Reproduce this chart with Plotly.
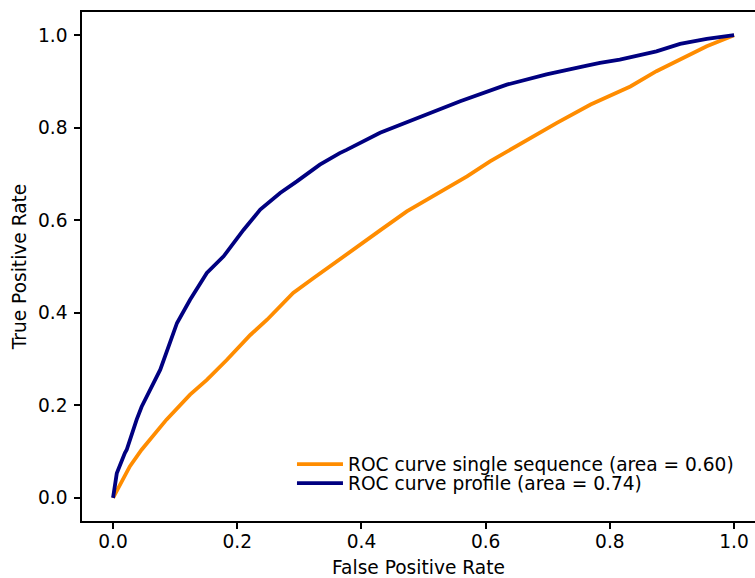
import plotly.graph_objects as go

# False/true positive rates
fpr_single = [0.0, 0.011, 0.027, 0.046, 0.086, 0.124, 0.151, 0.183, 0.221, 0.248,
              0.290, 0.323, 0.371, 0.430, 0.473, 0.527, 0.570, 0.607, 0.661,
              0.714, 0.769, 0.816, 0.833, 0.875, 0.913, 0.956, 1.0]
tpr_single = [0.0, 0.028, 0.068, 0.104, 0.169, 0.223, 0.255, 0.298, 0.352, 0.385,
              0.443, 0.475, 0.522, 0.578, 0.619, 0.662, 0.695, 0.727, 0.770,
              0.810, 0.850, 0.879, 0.889, 0.922, 0.947, 0.976, 1.0]

fpr_profile = [0.0, 0.006, 0.019, 0.022, 0.038, 0.046, 0.076, 0.103, 0.124, 0.151, 0.178,
               0.210, 0.237, 0.269, 0.296, 0.333, 0.365, 0.376, 0.430, 0.489, 0.559,
               0.634, 0.698, 0.763, 0.784, 0.816, 0.838, 0.875, 0.913, 0.956, 1.0]
tpr_profile = [0.0, 0.053, 0.097, 0.104, 0.169, 0.197, 0.277, 0.378, 0.428, 0.486, 0.522,
               0.579, 0.623, 0.659, 0.684, 0.720, 0.745, 0.752, 0.789, 0.821, 0.857,
               0.893, 0.915, 0.934, 0.940, 0.947, 0.954, 0.965, 0.981, 0.992, 1.0]

label_single = "ROC curve single sequence (area = 0.60)"
label_profile = "ROC curve profile (area = 0.74)"
tick_vals = [0.0, 0.2, 0.4, 0.6, 0.8, 1.0]
tick_text = ["0.0", "0.2", "0.4", "0.6", "0.8", "1.0"]

FONT = "DejaVu Sans"
FS = 18.6

fig = go.Figure()
fig.add_trace(go.Scatter(x=fpr_single, y=tpr_single, mode="lines", name=label_single,
                         line=dict(color="#FF8C00", width=3.8), legend="legend"))
fig.add_trace(go.Scatter(x=fpr_profile, y=tpr_profile, mode="lines", name=label_profile,
                         line=dict(color="#000080", width=3.8), legend="legend2"))

axis_common = dict(showgrid=False, zeroline=False, showline=True, linecolor="black",
                   linewidth=1.5, ticks="outside", ticklen=6, tickwidth=1.5,
                   tickcolor="black", tickvals=tick_vals, ticktext=tick_text,
                   tickfont=dict(family=FONT, size=FS, color="black"))

fig.update_layout(
    width=755, height=578,
    margin=dict(l=82, r=0, t=12, b=57),
    plot_bgcolor="white", paper_bgcolor="white",
    font=dict(family=FONT, size=FS, color="black"),
    xaxis=dict(range=[-0.05, 1.0337], mirror=True,
               title=dict(text="False Positive Rate", font=dict(family=FONT, size=FS), standoff=10),
               ticklabelstandoff=-3, **axis_common),
    yaxis=dict(range=[-0.05, 1.05],
               title=dict(text="True Positive Rate", font=dict(family=FONT, size=FS), standoff=6),
               ticklabelstandoff=3, **axis_common),
    legend=dict(x=0.312, y=0.111, xanchor="left", yanchor="middle", bgcolor="rgba(0,0,0,0)",
                itemwidth=46, font=dict(family=FONT, size=FS)),
    legend2=dict(x=0.312, y=0.0737, xanchor="left", yanchor="middle", bgcolor="rgba(0,0,0,0)",
                 itemwidth=46, font=dict(family=FONT, size=FS)),
    showlegend=True,
)

fig.write_html("out.html")
